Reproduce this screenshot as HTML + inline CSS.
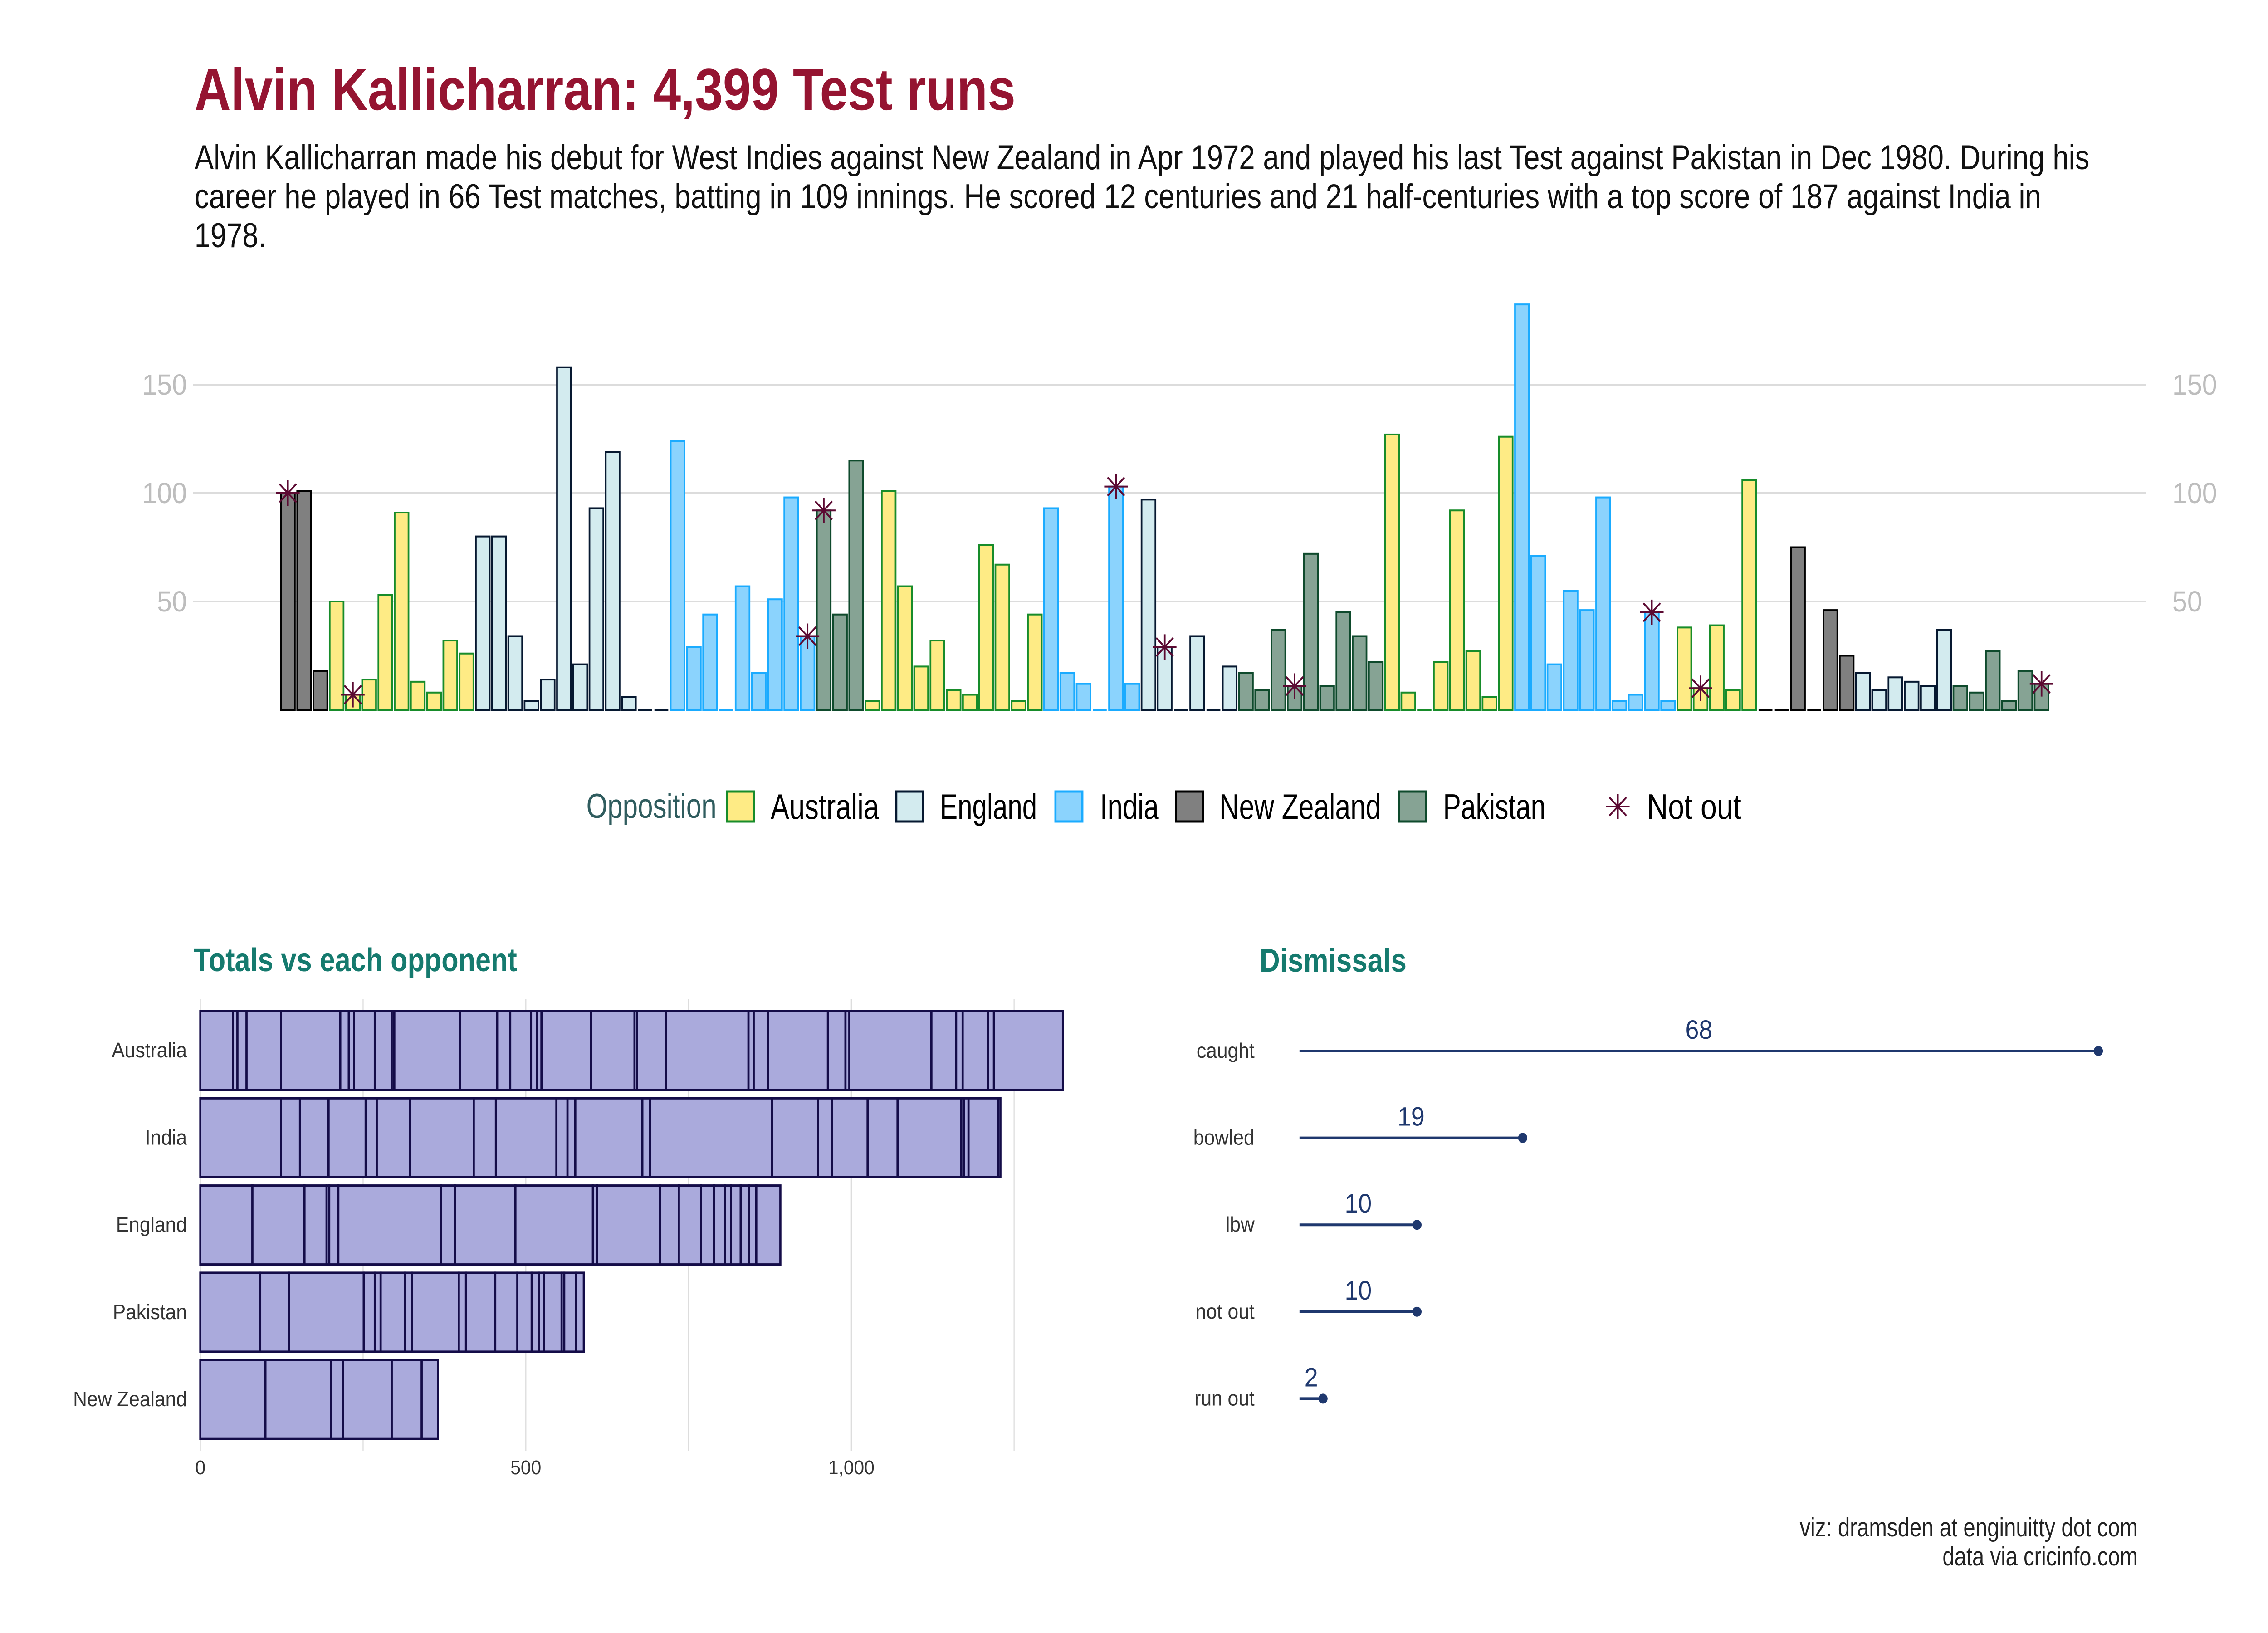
<!DOCTYPE html>
<html><head><meta charset="utf-8"><title>Alvin Kallicharran: 4,399 Test runs</title>
<style>
html,body{margin:0;padding:0;background:#fff;width:100%;height:100%;overflow:hidden;}
svg{display:block;width:100vw;height:100vh;}
text{font-family:"Liberation Sans Narrow","Liberation Sans",sans-serif;}
</style></head>
<body>
<svg id="chart" xmlns="http://www.w3.org/2000/svg" viewBox="0 0 5400 3600" preserveAspectRatio="none">
<rect x="0" y="0" width="5400" height="3600" fill="#ffffff"/>
<text x="463" y="242" font-size="130" font-weight="bold" fill="#951431" textLength="1955" lengthAdjust="spacingAndGlyphs">Alvin Kallicharran: 4,399 Test runs</text>
<g font-size="76" fill="#111">
<text x="463" y="373" textLength="4512" lengthAdjust="spacingAndGlyphs">Alvin Kallicharran made his debut for West Indies against New Zealand in Apr 1972 and played his last Test against Pakistan in Dec 1980. During his</text>
<text x="463" y="459" textLength="4397" lengthAdjust="spacingAndGlyphs">career he played in 66 Test matches, batting in 109 innings. He scored 12 centuries and 21 half-centuries with a top score of 187 against India in</text>
<text x="463" y="545" textLength="171" lengthAdjust="spacingAndGlyphs">1978.</text>
</g>
<g id="main"></g>
<g id="legend"></g>
<text x="461" y="2141" font-size="72" font-weight="bold" fill="#157a6e" textLength="770" lengthAdjust="spacingAndGlyphs">Totals vs each opponent</text>
<g id="totals"></g>
<text x="2999" y="2142" font-size="72" font-weight="bold" fill="#157a6e" textLength="350" lengthAdjust="spacingAndGlyphs">Dismissals</text>
<g id="dism"></g>
<g font-size="58" fill="#222" text-anchor="end">
<text x="5090" y="3387" textLength="805" lengthAdjust="spacingAndGlyphs">viz: dramsden at enginuitty dot com</text>
<text x="5090" y="3451" textLength="465" lengthAdjust="spacingAndGlyphs">data via cricinfo.com</text>
</g>
</svg>
<script>
// ---- data ----
var inningsRuns = [100,101,18,
 50,7,14,53,91,13,8,32,26,
 80,80,34,4,14,158,21,93,119,6,0,0,
 124,29,44,0,57,17,51,98,34,
 92,44,115,
 4,101,57,20,32,9,7,76,67,4,44,
 93,17,12,0,103,12,
 97,29,0,34,0,20,
 17,9,37,11,72,11,45,34,22,
 127,8,0,22,92,27,6,126,
 187,71,21,55,46,98,4,7,45,4,
 38,10,39,9,106,
 0,0,75,0,46,25,
 17,9,15,13,11,37,
 11,8,27,4,18,12];
var inningsOpp = "NNNAAAAAAAAAEEEEEEEEEEEEIIIIIIIIIPPPAAAAAAAAAAAIIIIIIEEEEEEPPPPPPPPPAAAAAAAAIIIIIIIIIIAAAAANNNNNNEEEEEEPPPPPP".split("");
var notOutIdx = [0,4,32,33,51,54,62,84,87,108];
var yTicks = [50,100,150];
var oppNames = {A:"Australia",E:"England",I:"India",N:"New Zealand",P:"Pakistan"};
var legendOrder = ["A","E","I","N","P"];
var totalsOrder = ["A","I","E","P","N"];
var totalsTicks = [0,500,1000];
var totalsTickLabels = ["0","500","1,000"];
var totalsGrid = [0,250,500,750,1000,1250];
var dismissalCats = ["caught","bowled","lbw","not out","run out"];
var dismissalVals = [68,19,10,10,2];

var fills = {A:"#feeb85",E:"#d3ebef",I:"#8bd3fd",N:"#808080",P:"#86a394"};
var strokes = {A:"#178c2a",E:"#061830",I:"#1aabff",N:"#000000",P:"#0e4a2c"};
var NS = "http://www.w3.org/2000/svg";
function mk(tag, attrs, parent){var e=document.createElementNS(NS,tag);for(var k in attrs)e.setAttribute(k,attrs[k]);parent.appendChild(e);return e;}

// ---- main chart scales ----
var X0 = 667, PITCH = 38.66, BW = 37;
function bx(i){return X0 + i*PITCH;}
var Y0 = 1565, PXU = 4.78;
function by(v){return Y0 - v*PXU;}
var main = document.getElementById("main");
yTicks.forEach(function(t){
  var g = mk("line",{x1:459,x2:5110,y1:by(t),y2:by(t),stroke:"#dcdcdc","stroke-width":4},main);
  
  
  var l = mk("text",{x:445,y:by(t)+22,"font-size":64,fill:"#bdbdbd","text-anchor":"end"},main);
  l.textContent = t;
  
  
  var r = mk("text",{x:5172,y:by(t)+22,"font-size":64,fill:"#bdbdbd"},main);
  r.textContent = t;
  
  
});
inningsRuns.forEach(function(v,i){
  var o = inningsOpp[i], el;
  if(v===0){
    el = mk("line",{x1:bx(i)+2,x2:bx(i)+BW-2,y1:Y0,y2:Y0,stroke:strokes[o],"stroke-width":5},main);
  } else {
    el = mk("rect",{x:bx(i)+2,y:by(v),width:BW-4,height:v*PXU,fill:fills[o],stroke:strokes[o],"stroke-width":4},main);
  }
  
  
});
function star(cx,cy,parent,s){
  var g = mk("g",{stroke:"#5c0a32","stroke-width":4,fill:"none"},parent);
  mk("line",{x1:cx-s,x2:cx+s,y1:cy,y2:cy},g);
  mk("line",{x1:cx,x2:cx,y1:cy-s,y2:cy+s},g);
  var d = s*0.72;
  mk("line",{x1:cx-d,x2:cx+d,y1:cy-d,y2:cy+d},g);
  mk("line",{x1:cx-d,x2:cx+d,y1:cy+d,y2:cy-d},g);
  return g;
}
notOutIdx.forEach(function(i){
  var g = star(bx(i)+BW/2, by(inningsRuns[i]), main, 28);
  
  
});

// ---- legend ----
var leg = document.getElementById("legend");
var lt = mk("text",{x:1396,y:1803,"font-size":76,fill:"#2f5c5e",textLength:310,lengthAdjust:"spacingAndGlyphs"},leg);
lt.textContent = "Opposition";


var legBoxX = [1731,2134,2513,2800,3331];
var legLabX = [1835,2238,2619,2903,3436];
var legLabW = [258,231,140,385,244];
legendOrder.forEach(function(o,k){
  var g = mk("g",{},leg);
  
  
  mk("rect",{x:legBoxX[k],y:1745,width:64,height:66,fill:fills[o],stroke:strokes[o],"stroke-width":5},g);
  var t = mk("text",{x:legLabX[k],y:1805,"font-size":78,fill:"#000",textLength:legLabW[k],lengthAdjust:"spacingAndGlyphs"},g);
  t.textContent = oppNames[o];
});
var ng = mk("g",{},leg);


star(3852,1778,ng,28);
var nt = mk("text",{x:3921,y:1805,"font-size":78,fill:"#000",textLength:225,lengthAdjust:"spacingAndGlyphs"},ng);
nt.textContent = "Not out";

// ---- totals chart ----
var tot = document.getElementById("totals");
function tx(v){return 477 + v*1.55;}
var rowTop0 = 2229, rowPitch = 192.3, rowH = 174;
totalsGrid.forEach(function(t){
  var g = mk("line",{x1:tx(t),x2:tx(t),y1:2203,y2:3199,stroke:"#dddddd","stroke-width":2.5},tot);
  
  
});
totalsTicks.forEach(function(t,k){
  var l = mk("text",{x:tx(t),y:3250,"font-size":44,fill:"#333","text-anchor":"middle"},tot);
  l.textContent = totalsTickLabels[k];
  
  
});
totalsOrder.forEach(function(o,r){
  var y = rowTop0 + r*rowPitch;
  var lab = mk("text",{x:445,y:y+rowH/2+15,"font-size":46,fill:"#333","text-anchor":"end"},tot);
  lab.textContent = oppNames[o];
  
  
  var cum = 0;
  inningsRuns.forEach(function(v,i){
    if(inningsOpp[i]!==o) return;
    var s = mk("rect",{x:tx(cum),y:y,width:Math.max(v*1.55,0.01),height:rowH,fill:"#aaaadc",stroke:"#140c48","stroke-width":5},tot);
    
    
    cum += v;
  });
});

// ---- dismissals ----
var dm = document.getElementById("dism");
function dx(v){return 3094 + v*(1902/68);}
dismissalCats.forEach(function(c,k){
  var y = 2317 + k*191.6;
  var lab = mk("text",{x:2987,y:y+15,"font-size":46,fill:"#333","text-anchor":"end"},dm);
  lab.textContent = c;
  
  
  var ln = mk("line",{x1:dx(0),x2:dx(dismissalVals[k]),y1:y,y2:y,stroke:"#1f386e","stroke-width":6},dm);
  
  
  var dt = mk("circle",{cx:dx(dismissalVals[k]),cy:y,r:11,fill:"#1f386e"},dm);
  
  
  var vl = mk("text",{x:(dx(0)+dx(dismissalVals[k]))/2,y:y-27,"font-size":58,fill:"#1f386e","text-anchor":"middle","font-family":"Liberation Sans, sans-serif"},dm);
  vl.textContent = dismissalVals[k];
  
  
});
</script>
</body></html>
